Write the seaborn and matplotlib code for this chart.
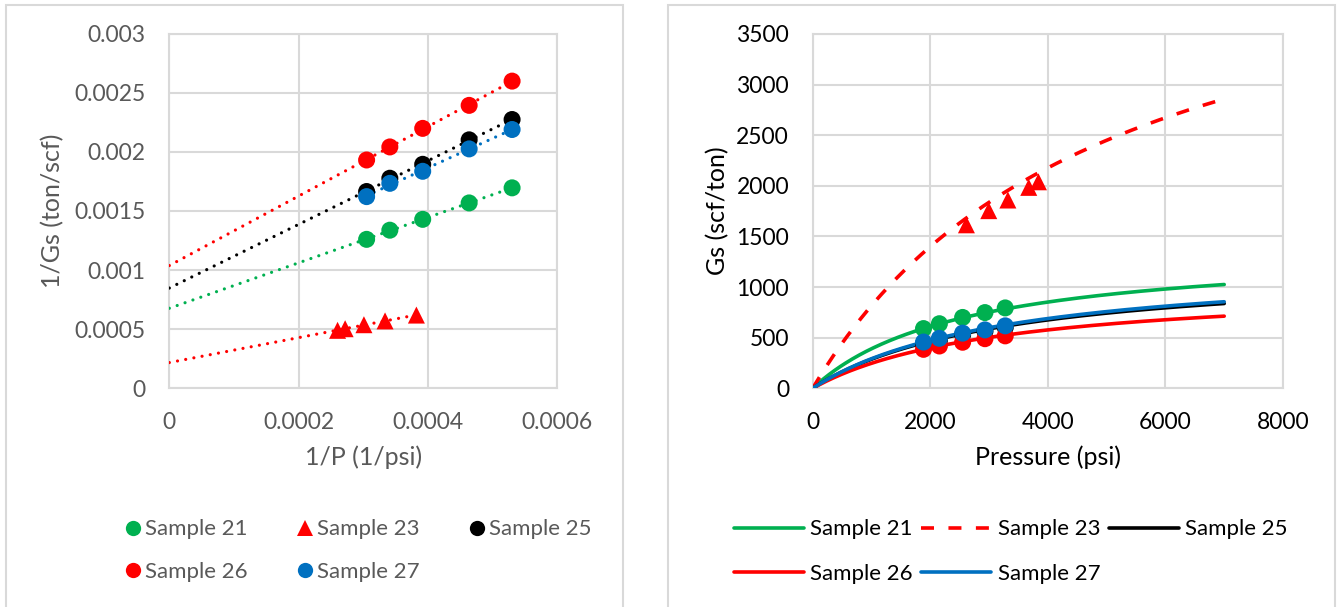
import numpy as np
import matplotlib
matplotlib.use("Agg")
import matplotlib.pyplot as plt
import seaborn as sns
from matplotlib.patches import Rectangle
from matplotlib.lines import Line2D

# 数据：压力 (psi) 与吸附量 Gs (scf/ton)
samples = ["Sample 21", "Sample 23", "Sample 25", "Sample 26", "Sample 27"]
p_main = [1885, 2155, 2550, 2930, 3275]          # samples 21, 25, 26, 27
p_23 = [2615, 2995, 3320, 3675, 3840]
gs_21 = [590, 638, 700, 748, 794]
gs_23 = [1615, 1755, 1860, 1985, 2040]
gs_25 = [440, 476, 528, 563, 601]
gs_26 = [385, 418, 455, 490, 518]
gs_27 = [457, 494, 545, 577, 617]

# Langmuir 参数 (右图曲线)
vl = [1406, 4900, 1230, 1039, 1259]
pl = [2600, 5000, 3280, 3204, 3308]
p_curve_max = 7000

colors = ["#00B050", "#FF0000", "#000000", "#FF0000", "#0070C0"]
markers = ["o", "^", "o", "o", "o"]
pressures = [p_main, p_23, p_main, p_main, p_main]
gs_all = [gs_21, gs_23, gs_25, gs_26, gs_27]
trend_from_zero = [True, True, True, True, False]

sns.set_theme(style="whitegrid")
plt.rcParams['font.family'] = ['Lato', 'DejaVu Sans']

fig = plt.figure(figsize=(13.38, 6.07), dpi=100)
W, H = 1338, 607

# 外框
fig.patches.append(Rectangle((5.5 / W, -0.05), (623 - 5.5) / W, 1.05 - 5 / H,
                             transform=fig.transFigure, fill=False, ec="#d9d9d9", lw=1.5))
fig.patches.append(Rectangle((668 / W, -0.05), (1334.5 - 668) / W, 1.05 - 5 / H,
                             transform=fig.transFigure, fill=False, ec="#d9d9d9", lw=1.5))

ax1 = fig.add_axes([169.3 / W, 1 - 388.3 / H, (557 - 169.3) / W, (388.3 - 33.5) / H])
ax2 = fig.add_axes([812.7 / W, 1 - 388.3 / H, (1283 - 812.7) / W, (388.3 - 34) / H])

grid_c = "#d9d9d9"
gray_txt = "#595959"

# 左图：1/Gs vs 1/P
left_handles = []
for name, p, g, c, m, fz in zip(samples, pressures, gs_all, colors, markers, trend_from_zero):
    x = 1.0 / np.array(p, dtype=float)
    y = 1.0 / np.array(g, dtype=float)
    k, b = np.polyfit(x, y, 1)
    x0 = 0.0 if fz else x.min()
    xs = np.array([x0, x.max()])
    ax1.plot(xs, k * xs + b, color=c, lw=2.3, linestyle=(0, (0.01, 2.6)),
             dash_capstyle="round", zorder=3)
    sns.scatterplot(x=x, y=y, color=c, marker=m, s=150, edgecolor="none", ax=ax1,
                    zorder=4, legend=False)
    left_handles.append(Line2D([], [], color=c, marker=m, linestyle="none",
                               markersize=11, markeredgewidth=0, label=name))

ax1.set_xlim(0, 0.0006)
ax1.set_ylim(0, 0.003)
ax1.set_xticks([0, 0.0002, 0.0004, 0.0006])
ax1.set_yticks(np.arange(0, 0.0031, 0.0005))
ax1.xaxis.set_major_formatter(plt.FuncFormatter(lambda v, _: f"{v:g}"))
ax1.yaxis.set_major_formatter(plt.FuncFormatter(lambda v, _: f"{v:g}"))
ax1.set_xlabel("1/P (1/psi)", fontsize=18, color=gray_txt, labelpad=9)
ax1.set_ylabel("1/Gs (ton/scf)", fontsize=18, color=gray_txt, labelpad=7)
ax1.tick_params(axis="both", labelsize=16.5, colors=gray_txt, length=0, pad=17)

# 右图：Gs vs Pressure
right_handles = []
p_line = np.linspace(0, p_curve_max, 300)
for i, (name, p, g, c, m) in enumerate(zip(samples, pressures, gs_all, colors, markers)):
    ls = (0, (3.6, 4.0)) if i == 1 else "-"
    ln, = ax2.plot(p_line, vl[i] * p_line / (pl[i] + p_line), color=c, lw=2.6,
                   linestyle=ls, zorder=3, label=name)
    sns.scatterplot(x=p, y=g, color=c, marker=m, s=150, edgecolor="none", ax=ax2,
                    zorder=4, legend=False)
    right_handles.append(ln)

ax2.set_xlim(0, 8000)
ax2.set_ylim(0, 3500)
ax2.set_xticks(range(0, 8001, 2000))
ax2.set_yticks(range(0, 3501, 500))
ax2.set_xlabel("Pressure (psi)", fontsize=18, color="black", labelpad=9)
ax2.set_ylabel("Gs (scf/ton)", fontsize=18, color="black", labelpad=5)
ax2.tick_params(axis="both", labelsize=16.5, colors="black", length=0, pad=17)

for ax in (ax1, ax2):
    ax.set_facecolor("white")
    ax.grid(True, color=grid_c, lw=1.5)
    for s in ax.spines.values():
        s.set_visible(True)
        s.set_color(grid_c)
        s.set_linewidth(1.5)

# 图例 (按行排列)
order = [0, 3, 1, 4, 2]
fig.legend([left_handles[i] for i in order], [samples[i] for i in order],
           loc="center left", bbox_to_anchor=(125 / W, 1 - 550.5 / H), ncol=3,
           frameon=False, fontsize=16, handlelength=0.7, handletextpad=0.22,
           columnspacing=2.2, labelspacing=1.0, borderpad=0, borderaxespad=0,
           labelcolor=gray_txt)
fig.legend([right_handles[i] for i in order], [samples[i] for i in order],
           loc="center left", bbox_to_anchor=(733.5 / W, 1 - 551.5 / H), ncol=3,
           frameon=False, fontsize=16, handlelength=3.15, handletextpad=0.29,
           columnspacing=0.39, labelspacing=1.1, borderpad=0, borderaxespad=0,
           labelcolor="black")

plt.savefig("out.png", dpi=100)
